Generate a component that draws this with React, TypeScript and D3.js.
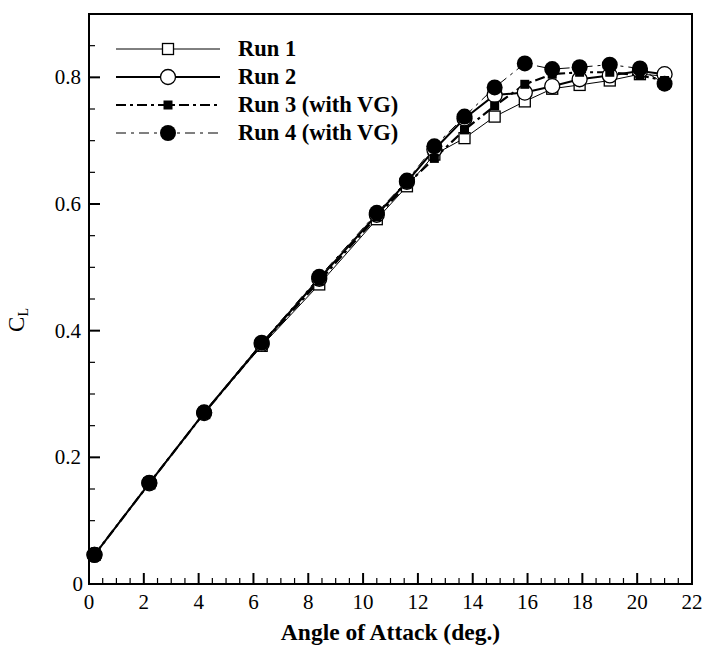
import React from 'react';
import * as d3 from 'd3';

// angle of attack (deg.)
const alpha = [0.2, 2.2, 4.2, 6.3, 8.4, 10.5, 11.6, 12.6, 13.7, 14.8, 15.9, 16.9, 17.9, 19.0, 20.1, 21.0];

const run1 = [0.046, 0.159, 0.27, 0.376, 0.473, 0.576, 0.628, 0.678, 0.704, 0.738, 0.762, 0.782, 0.788, 0.795, 0.805, 0.802];
const run2 = [0.046, 0.159, 0.27, 0.379, 0.482, 0.583, 0.635, 0.686, 0.735, 0.772, 0.776, 0.786, 0.797, 0.803, 0.81, 0.805];
const run3 = [0.046, 0.159, 0.27, 0.378, 0.478, 0.58, 0.631, 0.672, 0.717, 0.755, 0.789, 0.805, 0.808, 0.808, 0.803, 0.795];
const run4 = [0.046, 0.16, 0.271, 0.381, 0.485, 0.586, 0.637, 0.691, 0.738, 0.784, 0.822, 0.813, 0.816, 0.82, 0.814, 0.79];

const runNames = ['Run 1', 'Run 2', 'Run 3 (with VG)', 'Run 4 (with VG)'];

const xTicks = [0, 2, 4, 6, 8, 10, 12, 14, 16, 18, 20, 22];
const yTicks = [0, 0.2, 0.4, 0.6, 0.8];

const W = 706;
const H = 646;
const m = { left: 89, right: 14, top: 14, bottom: 62 };

const font = '"Liberation Serif", "Times New Roman", serif';

type Style = { width: number; dash: string | null; marker: string };
const styles: Style[] = [
  { width: 1, dash: null, marker: 'openSquare' },
  { width: 2, dash: null, marker: 'openCircle' },
  { width: 2.2, dash: '10,4,3,4', marker: 'filledSquare' },
  { width: 1, dash: '10,5,3,5', marker: 'filledCircle' },
];

function Marker({ kind, x, y }: { kind: string; x: number; y: number }) {
  if (kind === 'openSquare') {
    return <rect x={x - 5.5} y={y - 5.5} width={11} height={11} fill="#fff" stroke="#000" strokeWidth={1.3} />;
  }
  if (kind === 'openCircle') {
    return <circle cx={x} cy={y} r={7.5} fill="#fff" stroke="#000" strokeWidth={1.3} />;
  }
  if (kind === 'filledSquare') {
    return <rect x={x - 4.5} y={y - 4.5} width={9} height={9} fill="#000" />;
  }
  return <circle cx={x} cy={y} r={8} fill="#000" />;
}

export default function App() {
  const x = d3.scaleLinear().domain([0, 22]).range([m.left, W - m.right]);
  const y = d3.scaleLinear().domain([0, 0.9]).range([H - m.bottom, m.top]);

  const runs = [run1, run2, run3, run4];
  const line = d3.line<[number, number]>().x(d => x(d[0])).y(d => y(d[1]));

  const xMinor = d3.range(0, 22.01, 0.5).filter(v => !xTicks.includes(v));
  const yMinor = d3.range(0, 0.9001, 0.05).map(v => +v.toFixed(2)).filter(v => !yTicks.includes(v));

  const x0 = m.left;
  const yb = H - m.bottom;

  return (
    <svg width={W} height={H} style={{ position: 'absolute', left: 0, top: 0, background: '#fff' }}>
      <rect x={0} y={0} width={W} height={H} fill="#fff" />
      {/* series */}
      {runs.map((r, i) => (
        <path
          key={'l' + i}
          d={line(alpha.map((a, j) => [a, r[j]] as [number, number])) || ''}
          fill="none"
          stroke="#000"
          strokeWidth={styles[i].width}
          strokeDasharray={styles[i].dash || undefined}
        />
      ))}
      {runs.map((r, i) => (
        <g key={'m' + i}>
          {alpha.map((a, j) => (
            <Marker key={j} kind={styles[i].marker} x={x(a)} y={y(r[j])} />
          ))}
        </g>
      ))}

      {/* frame */}
      <rect x={x0} y={m.top} width={W - m.right - m.left} height={yb - m.top} fill="none" stroke="#000" strokeWidth={2} />

      {/* x ticks */}
      {xTicks.map(t => (
        <g key={'xt' + t}>
          <line x1={x(t)} x2={x(t)} y1={yb} y2={yb - 11} stroke="#000" strokeWidth={2} />
          <text x={x(t)} y={yb + 25} textAnchor="middle" fontFamily={font} fontSize={21}>{t}</text>
        </g>
      ))}
      {xMinor.map(t => (
        <line key={'xm' + t} x1={x(t)} x2={x(t)} y1={yb} y2={yb - 6} stroke="#000" strokeWidth={1.2} />
      ))}

      {/* y ticks */}
      {yTicks.map(t => (
        <g key={'yt' + t}>
          <line x1={x0} x2={x0 + 11} y1={y(t)} y2={y(t)} stroke="#000" strokeWidth={2} />
          <text x={t === 0 ? x0 - 6 : x0 - 8} y={y(t) + 7} textAnchor="end" fontFamily={font} fontSize={21}>{t === 0 ? '0' : t.toFixed(1)}</text>
        </g>
      ))}
      {yMinor.map(t => (
        <line key={'ym' + t} x1={x0} x2={x0 + 6} y1={y(t)} y2={y(t)} stroke="#000" strokeWidth={1.2} />
      ))}

      {/* axis titles */}
      <text x={(x0 + W - m.right) / 2} y={640} textAnchor="middle" fontFamily={font} fontSize={23.5} fontWeight="bold">
        Angle of Attack (deg.)
      </text>
      <text transform="translate(24,320) rotate(-90)" textAnchor="middle" fontFamily={font} fontSize={23}>
        C<tspan fontSize={14} dy={4}>L</tspan>
      </text>

      {/* legend */}
      {runNames.map((name, i) => {
        const ly = 49 + i * 28;
        return (
          <g key={'lg' + i}>
            <line x1={116} x2={220} y1={ly} y2={ly} stroke="#000" strokeWidth={styles[i].width} strokeDasharray={styles[i].dash || undefined} />
            <Marker kind={styles[i].marker} x={168} y={ly} />
            <text x={238} y={ly + 7} fontFamily={font} fontSize={22.5} fontWeight="bold">{name}</text>
          </g>
        );
      })}
    </svg>
  );
}
